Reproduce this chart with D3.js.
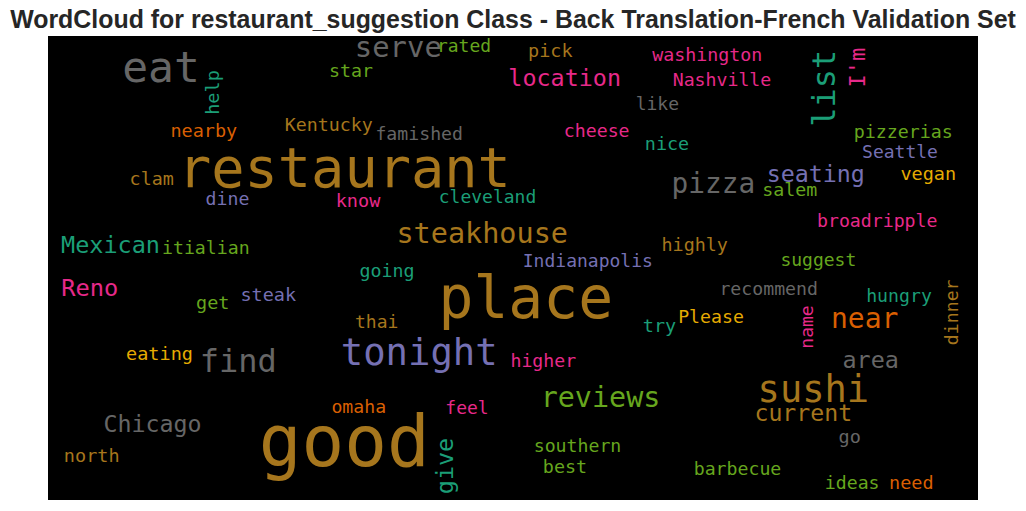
<!DOCTYPE html>
<html>
<head>
<meta charset="utf-8">
<script src="https://cdn.jsdelivr.net/npm/d3@7"></script>
<style>
  html, body { margin: 0; padding: 0; background: #ffffff; }
  svg { display: block; }
</style>
</head>
<body>
<svg id="chart" width="1026" height="511"></svg>
<script>
// ---- data (panel coordinates of the 930x464 word-cloud image) ----
const titleText = "WordCloud for restaurant_suggestion Class - Back Translation-French Validation Set";
const palette = ["#1b9e77", "#d95f02", "#7570b3", "#e7298a", "#66a61e", "#e6ab02", "#a6761d", "#666666"];
// colour index: 0 teal, 1 orange, 2 purple, 3 pink, 4 green, 5 yellow, 6 brown, 7 gray
const words = ["restaurant","eat","serve","rated","star","pick","location","washington","Nashville","like",
  "Kentucky","famished","nearby","cheese","nice","pizzerias","Seattle","clam","dine","know",
  "cleveland","pizza","seating","vegan","salem","Mexican","itialian","steakhouse","broadripple","highly",
  "Indianapolis","suggest","going","Reno","get","steak","place","recommend","hungry","thai",
  "try","Please","near","eating","find","tonight","higher","area","sushi","current",
  "go","barbecue","ideas","need","Chicago","north","omaha","good","reviews","feel",
  "southern","best","help","list","I'm","dinner","name","give"];
const colorIdx = [6,7,7,4,4,6,3,3,3,7,
  6,7,1,3,0,4,2,6,2,3,
  0,7,2,5,4,0,4,6,3,6,
  2,4,0,3,4,2,6,7,0,6,
  0,5,1,5,7,2,3,7,6,6,
  7,4,4,1,7,6,1,6,4,3,
  4,4,0,0,3,6,3,0];
const xs = [296.4,113,350.3,416,303,502.3,516.7,659.2,674,609.3,
  280.8,371.2,155.8,548.7,619,855.3,852,103.7,179.5,310,
  439.5,665.3,767.8,880.3,741.7,62.5,157.8,434.2,829.2,646.7,
  539.8,770.3,339,41.7,164.8,220.3,477.8,720.7,851,328.7,
  611.5,663,816.7,111.5,190.3,371.2,495.3,822.7,765.3,755.3,
  801.7,689.5,804.2,863.3,104.5,43.7,310.8,296.2,552.5,419,
  529.5,517,170.6,787,817,910,765,404.5];
const ys = [150.7,45.7,20.7,15.7,40.7,20.7,50,24.7,50,74,
  95,104,101,101.3,114,102.3,122.3,149,169,170.7,
  166.7,157.3,145.7,144,160,217.3,218,206.7,191.3,214.7,
  231.3,230,241.3,260,273.3,264.7,282.3,259,265.7,292.3,
  295.7,287.3,292.3,324,335.7,329,330.7,332.3,365.7,384.7,
  407.3,439,453,453,395.7,425.7,376.7,430,370.7,378,
  415.7,437.3,56.5,52.3,31.5,276.3,291,430];
const sizes = [55.3,43,28.9,18,18.3,18.5,23.4,18.3,18.2,18,
  18.3,18.2,18.5,18.2,18.4,18.3,18,18.4,18.2,18.5,
  18,27.8,23.3,18.5,18.3,23.5,18.2,28.5,18.2,18.4,
  18,18,18.3,23.7,18.5,18.5,58,18.2,18.2,18,
  18.5,18.2,28,18.5,32,37.2,18.2,23.4,37,23.2,
  18.5,18.2,18.2,18.5,23.3,18.5,18.2,71,28.4,18,
  18.2,18.4,18.5,32,22,18.2,18,23.4];
const rotations = [0,0,0,0,0,0,0,0,0,0,
  0,0,0,0,0,0,0,0,0,0,
  0,0,0,0,0,0,0,0,0,0,
  0,0,0,0,0,0,0,0,0,0,
  0,0,0,0,0,0,0,0,0,0,
  0,0,0,0,0,0,0,0,0,0,
  0,0,-90,-90,-90,-90,-90,-90];

// ---- drawing ----
const svg = d3.select("#chart");
const panel = { x0: 48, y0: 36, x1: 978, y1: 500 };
const x = d3.scaleLinear().domain([0, 930]).range([panel.x0, panel.x1]);
const y = d3.scaleLinear().domain([0, 464]).range([panel.y0, panel.y1]);
const k = (panel.x1 - panel.x0) / 930;

svg.append("rect")
  .attr("x", x(0)).attr("y", y(0))
  .attr("width", x(930) - x(0)).attr("height", y(464) - y(0))
  .attr("fill", "#000000");

const data = words.map((w, i) => ({ w, c: palette[colorIdx[i]], x: xs[i], y: ys[i], s: sizes[i], r: rotations[i] }));

svg.append("g").selectAll("text")
  .data(data)
  .join("text")
  .attr("transform", d => `translate(${x(d.x)},${y(d.y)}) rotate(${d.r})`)
  .attr("text-anchor", "middle")
  .attr("font-family", "'DejaVu Sans Mono', monospace")
  .attr("font-size", d => d.s * k)
  .attr("fill", d => d.c)
  .text(d => d.w);

const title = svg.append("text")
  .attr("x", 513).attr("y", 28)
  .attr("text-anchor", "middle")
  .attr("font-family", "'Liberation Sans', Arial, sans-serif")
  .attr("font-weight", "bold")
  .attr("font-size", 22)
  .attr("fill", "#262626")
  .text(titleText);
const tw = title.node().getComputedTextLength();
title.attr("font-size", 22 * 1006 / tw);
</script>
</body>
</html>
